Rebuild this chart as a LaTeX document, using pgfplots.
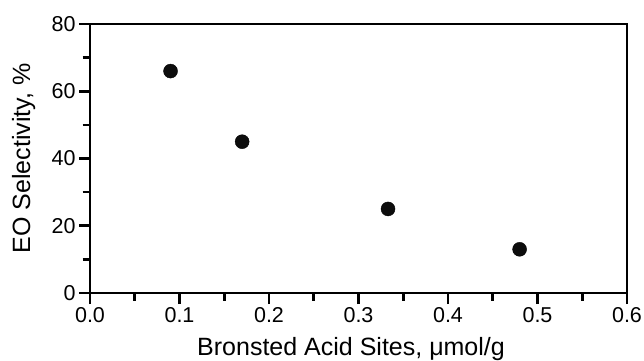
\documentclass[border=0pt]{standalone}
\usepackage{pgfplots}
\pgfplotsset{compat=1.18}
\usepackage{fontspec}
\setmainfont{Liberation Sans}
\begin{document}
\begin{tikzpicture}
\begin{axis}[
  scale only axis,
  width=537bp, height=269bp,
  xmin=0, xmax=0.6, ymin=0, ymax=80,
  xtick={0,0.1,...,0.6},
  ytick={0,20,...,80},
  minor x tick num=1, minor y tick num=1,
  tick align=outside,
  xtick pos=left, ytick pos=left,
  major tick length=11bp, minor tick length=7.5bp,
  axis line style={line width=2.7bp, black},
  every tick/.append style={line width=2.6bp, black},
  /pgf/number format/assume math mode=true,
  xticklabel style={/pgf/number format/fixed, /pgf/number format/fixed zerofill, /pgf/number format/precision=1},
  every tick label/.append style={font=\fontsize{21.5bp}{24bp}\selectfont},
  xlabel={Bronsted Acid Sites, μmol/g},
  ylabel={EO Selectivity, \%},
  label style={font=\fontsize{25bp}{28bp}\selectfont},
  xlabel style={at={(axis description cs:0.1993,-0.2305)}, anchor=base west, inner sep=0pt},
  ylabel style={at={(axis description cs:-0.1117,0.5)}, anchor=base, rotate=0, inner sep=0pt},
  clip=false,
]
\addplot[only marks, mark=*, mark size=7bp, mark options={fill=black!95, draw=none}] coordinates {
  (0.09,66) (0.17,45) (0.333,25) (0.48,13)
};
\end{axis}
\pgfresetboundingbox
\path ([xshift=-90bp,yshift=-67bp]current axis.south west) rectangle ([xshift=17bp,yshift=24bp]current axis.north east);
\end{tikzpicture}
\end{document}
